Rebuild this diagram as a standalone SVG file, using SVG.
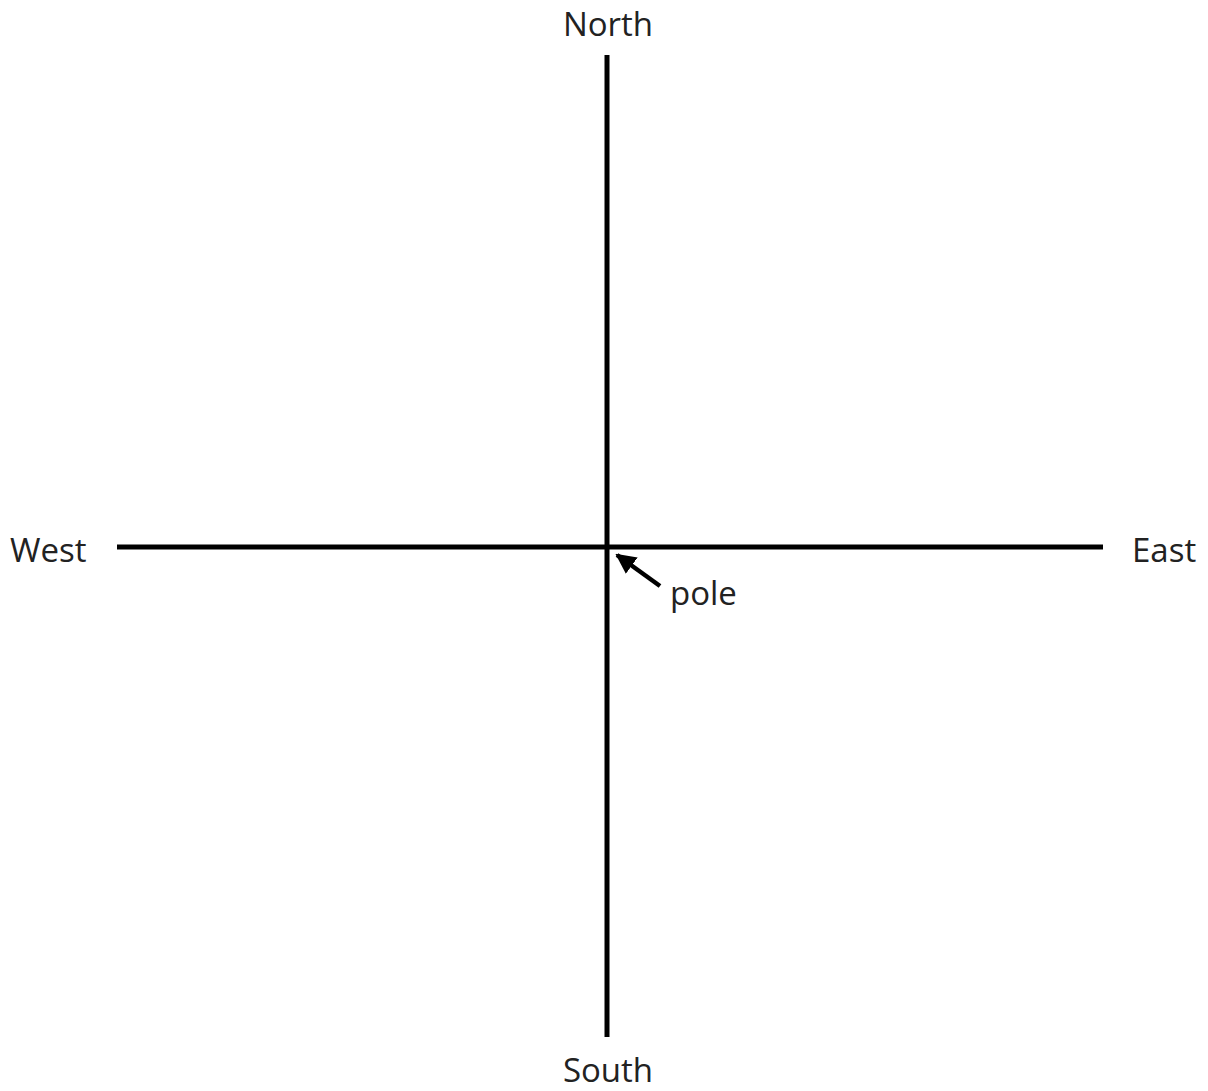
<svg xmlns="http://www.w3.org/2000/svg" width="1208" height="1091" viewBox="0 0 1208 1091">
<style>
.lbl{font-family:"Open Sans","Noto Sans",sans-serif;font-size:33px;fill:#222}
.ax{stroke:#000;stroke-width:5;fill:none}
</style>
<defs>
<marker id="ah" viewBox="0 0 10 10" refX="9" refY="5" markerWidth="4.5" markerHeight="4.5" orient="auto" markerUnits="strokeWidth">
<path d="M0,0 L10,5 L0,10 z" fill="#000"/>
</marker>
</defs>
<rect width="1208" height="1091" fill="#fff"/>
<g id="connectors">
<line class="ax" x1="607" y1="55" x2="607" y2="1037"/>
<line class="ax" x1="117" y1="547" x2="1103" y2="547"/>
<line x1="660" y1="586" x2="617" y2="555" stroke="#000" stroke-width="4.5" marker-end="url(#ah)"/>
</g>
<g id="north"><text class="lbl" x="608" y="36" text-anchor="middle">North</text></g>
<g id="south"><text class="lbl" x="608" y="1082" text-anchor="middle">South</text></g>
<g id="west"><text class="lbl" x="10" y="562">West</text></g>
<g id="east"><text class="lbl" x="1132" y="562">East</text></g>
<g id="pole"><text class="lbl" x="670" y="605">pole</text></g>
</svg>
